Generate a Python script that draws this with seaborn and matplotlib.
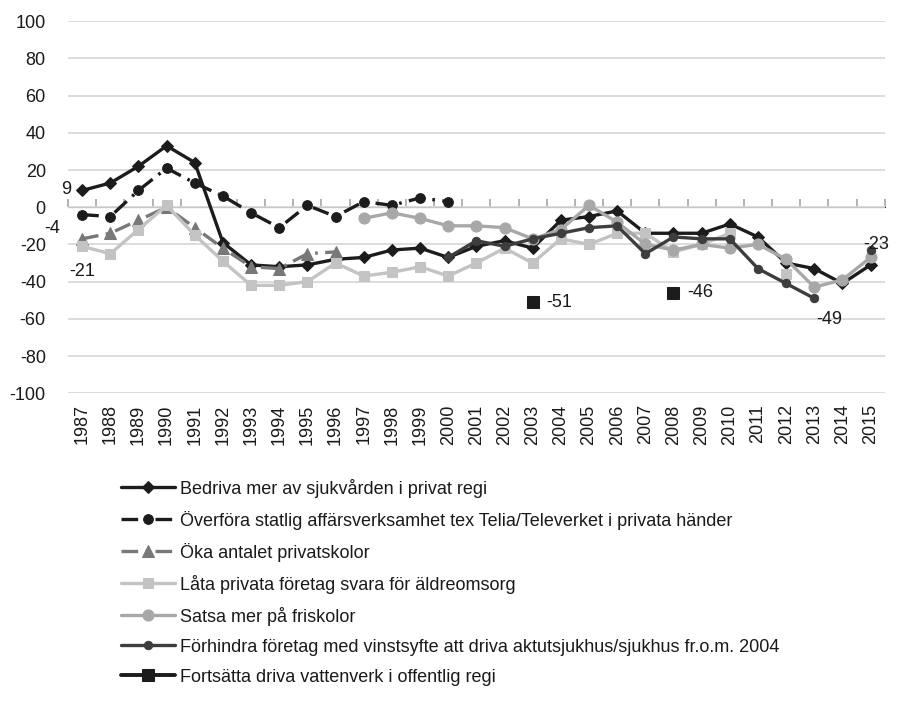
import numpy as np
import pandas as pd
import matplotlib
matplotlib.use("Agg")
import matplotlib.pyplot as plt
import seaborn as sns

nan = np.nan

# --- data ---
years = list(range(1987, 2016))

bedriva = [9, 13, 22, 33, 24, -19, -31, -32, -31, -28, -27, -23, -22, -27, -21,
           -18, -22, -7, -5, -2, -14, -14, -14, -9, -16, -30, -33, -41, -31]
overfora = [-4, -5, 9, 21, 13, 6, -3, -11, 1, -5, 3, 1, 5, 3] + [nan] * 15
oka = [-17, -14, -7, 0, -11, -22, -32, -33, -25, -24] + [nan] * 19
lata = [-21, -25, -12, 1, -15, -29, -42, -42, -40, -30,
        -37, -35, -32, -37, -30, -22, -30, -17, -20, -14,
        -14, -24, -20, -14, nan, -36, nan, nan, nan]
satsa = [nan] * 10 + [-6, -3, -6, -10, -10, -11, -17, -12, 1, -8,
                      -20, -23, -20, -22, -20, -28, -43, -39, -27]
forhindra = [nan] * 13 + [-27, -18, -21, -17, -14, -11, -10, -25, -16, -17,
                          -17, -33, -41, -49, nan, -23]
fortsatta = [nan] * 16 + [-51] + [nan] * 4 + [-46] + [nan] * 7

labels = [
    "Bedriva mer av sjukvården i privat regi",
    "Överföra statlig affärsverksamhet tex Telia/Televerket i privata händer",
    "Öka antalet privatskolor",
    "Låta privata företag svara för äldreomsorg",
    "Satsa mer på friskolor",
    "Förhindra företag med vinstsyfte att driva aktutsjukhus/sjukhus fr.o.m. 2004",
    "Fortsätta driva vattenverk i offentlig regi",
]

# data labels: series, year, text, offset (points), alignment
annotations = [
    (bedriva, 1987, "9", (-8, 1), "right", "center"),
    (overfora, 1987, "-4", (-16, -10), "right", "center"),
    (lata, 1987, "-21", (0, -18), "center", "center"),
    (fortsatta, 2003, "-51", (10, 0), "left", "center"),
    (fortsatta, 2008, "-46", (10, 0), "left", "center"),
    (forhindra, 2013, "-49", (11, -15), "center", "center"),
    (forhindra, 2015, "-23", (-5, 4), "left", "center"),
]

sns.set_style("white")
plt.rcParams["font.family"] = ["Liberation Sans", "DejaVu Sans"]
plt.rcParams["axes.unicode_minus"] = False

fig = plt.figure(figsize=(9, 7.06), dpi=100)
ax = fig.add_axes([0.0756, 0.443, 0.9074, 0.527])


def draw(values, label, **style):
    s = pd.Series(values, index=years, dtype=float)
    runs = s.isna().cumsum()[s.notna()]
    first = True
    for _, run in s.dropna().groupby(runs):
        sns.lineplot(x=run.index, y=run.values, ax=ax, errorbar=None,
                     label=label if first else "_nolegend_", **style)
        first = False


dashdot = (0, (5, 2.2, 0.8, 2.2))
draw(bedriva, labels[0], color="#1c1c1c", lw=2.4, marker="D", ms=6,
     markeredgecolor="#1c1c1c")
draw(overfora, labels[1], color="#1c1c1c", lw=2.4, linestyle=dashdot,
     marker="o", ms=7, markeredgecolor="#1c1c1c")
draw(oka, labels[2], color="#787878", lw=2.4, linestyle=dashdot,
     marker="^", ms=9, markeredgecolor="#787878")
draw(lata, labels[3], color="#c3c3c3", lw=2.4, marker="s", ms=6.5,
     markeredgecolor="#c3c3c3")
draw(satsa, labels[4], color="#a8a8a8", lw=2.4, marker="o", ms=8,
     markeredgecolor="#a8a8a8")
draw(forhindra, labels[5], color="#3d3d3d", lw=2.4, marker="o", ms=6,
     markeredgecolor="#3d3d3d")
draw(fortsatta, labels[6], color="#1c1c1c", lw=2.8, marker="s", ms=8.5,
     markeredgecolor="#1c1c1c")

for series, yr, txt, off, ha, va in annotations:
    ax.annotate(txt, (yr, series[years.index(yr)]), xytext=off,
                textcoords="offset points", ha=ha, va=va, fontsize=13,
                color="#1a1a1a")

ax.set_xlim(1986.5, 2015.5)
ax.set_ylim(-100, 100)
ax.set_yticks(range(-100, 101, 20))
ax.set_xticks(years)
ax.set_xticklabels([str(y) for y in years], rotation=90)
ax.tick_params(axis="x", length=0, pad=8, labelsize=13, labelcolor="#1a1a1a")
ax.tick_params(axis="y", length=0, pad=16, labelsize=13, labelcolor="#1a1a1a")
ax.grid(axis="y", color="#d9d9d9", lw=1.3)
ax.set_axisbelow(True)
for sp in ax.spines.values():
    sp.set_visible(False)
ax.set_xlabel("")
ax.set_ylabel("")

# category axis drawn at zero with tick marks between categories
zero_axis = ax.secondary_xaxis(0.5)
zero_axis.set_xticks([y - 0.5 for y in years] + [2015.5])
zero_axis.set_xticklabels([])
zero_axis.tick_params(axis="x", length=6, width=1.2, color="#a6a6a6",
                      direction="out")
zero_axis.spines["bottom"].set_color("#a6a6a6")
zero_axis.spines["bottom"].set_linewidth(1.5)

handles, labs = ax.get_legend_handles_labels()
ax.legend(handles, labs, loc="upper left", bbox_to_anchor=(0.134, 0.322),
          bbox_transform=fig.transFigure, frameon=False, fontsize=13,
          handlelength=3.0, handletextpad=0.3, labelspacing=0.72,
          borderaxespad=0, borderpad=0, labelcolor="#1a1a1a")

fig.savefig("out.png", dpi=100)
